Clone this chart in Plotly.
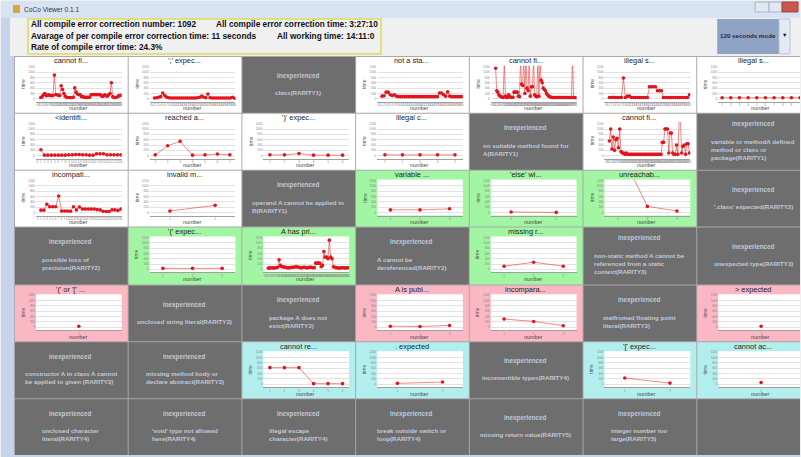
import plotly.graph_objects as go

W, H = 801, 457

# ---------------- data ----------------
cannot_find_a = [50, 80, 150, 200, 120, 130, 150, 120, 120, 120, 890, 150, 150, 130, 120, 490, 350, 200, 100, 50,
                 50, 50, 50, 50, 60, 410, 250, 180, 150, 150, 80, 80, 60, 60, 60, 60, 60, 150, 150, 160,
                 150, 150, 160, 150, 150, 100, 100, 150, 120, 100, 150, 200, 600, 80, 50, 50, 60, 100, 120, 130]
semicolon_expected = [30, 40, 60, 80, 220, 120, 60, 40, 30, 30, 30, 30, 30, 30, 30, 30, 30, 30, 30, 30,
                      30, 40, 60, 100, 60, 40, 180, 40, 30, 30, 30, 30, 30, 30, 30, 30, 30, 30, 60, 20]
not_a_statement = [100, 110, 250, 250, 150, 120, 150, 100, 80, 80, 80, 80, 80, 80, 80, 80, 80, 80, 80, 80,
                   80, 80, 80, 80, 80, 80, 80, 80, 220, 220, 150, 100, 260, 100, 80, 80, 80, 80, 80, 80]
cannot_find_b = [1150, 300, 250, 150, 100, 80, 60, 50, 1500, 100, 50, 50, 150, 80, 60, 50, 60, 250, 250, 250,
                 250, 100, 80, 1500, 550, 500, 1500, 200, 1500, 400, 300, 1500, 100, 450, 450, 1500, 150, 100, 80, 1500,
                 100, 1500, 700, 600, 400, 350, 300, 200, 150, 100, 80, 60, 50, 50, 50, 50, 50, 50, 50, 50,
                 50, 50, 50, 50, 50, 50, 50, 50, 50, 50, 50, 1500, 50, 50, 40]
illegal_start_a = [50, 50, 60, 50, 50, 50, 50, 780, 50, 100, 100, 50, 50, 50, 50, 50, 50, 50, 50, 50,
                   450, 450, 450, 450, 300, 300, 300, 50, 50, 50, 50, 50, 50, 50, 50, 50, 50, 50, 50, 50, 150]
illegal_start_b = [40, 40, 40, 40, 40, 40, 40, 40, 40, 40]
identifier_expected = [220, 20, 20, 20, 20, 20, 20, 20, 30, 30, 40, 40, 30, 30, 20, 20, 70, 70, 70, 30, 30, 30, 30, 30]
reached_end = [30, 370, 540, 20, 30, 60, 30]
paren_expected = [30, 30, 80, 20, 20, 20]
illegal_char = [30, 30, 30, 30, 30]
cannot_find_c = [550, 1000, 250, 700, 200, 600, 650, 300, 1000, 150, 100, 100, 50, 100, 50, 50, 50, 50, 50, 50,
                 50, 50, 50, 50, 50, 50, 50, 50, 50, 50, 50, 50, 50, 50, 50, 50, 50, 50, 50, 50,
                 50, 500, 500, 1000, 1000, 1000, 100, 850, 850, 100, 50, 50, 400, 50, 1300, 1300, 100, 350, 400, 50,
                 450, 450, 100]
incompatible_types = [90, 90, 310, 220, 220, 220, 620, 60, 60, 60, 50, 220, 100, 210, 130, 130, 130, 130, 130, 110,
                      100, 50, 40, 40, 100, 100, 80, 130]
invalid_method = [60, 270]
variable_init = [100, 100, 140]
else_without_if = [20, 5]
unreachable = [2500, 230, 60]
lparen_expected = [40, 40, 40]
has_private = [50, 50, 60, 60, 50, 60, 60, 80, 360, 150, 100, 100, 80, 80, 60, 60, 60, 80, 80, 80,
               100, 100, 80, 80, 60, 60, 80, 80, 60, 60, 80, 80, 80, 60, 60, 235, 235, 235, 235, 100,
               150, 675, 460, 460, 400, 1100, 460, 400, 100, 80, 60, 60, 50, 50, 60, 60, 60, 50, 60, 60]
missing_return = [120, 270, 120]
paren_or_bracket = [40]
is_public = [40, 30, 70]
incomparable = [310, 220, 60]
gt_expected = [40]
cannot_return = [620, 620, 620, 20, 20, 20]
dot_expected = [30, 80]
bracket_expected = [230, 40]
cannot_access = [60]

y_ticks = [0, 200, 400, 600, 800, 1000, 1200]

header_lines = [
    ("All compile error correction number: 1092", "All compile error correction time: 3:27:10"),
    ("Avarage of per compile error correction time: 11 seconds", "All working time: 14:11:0"),
    ("Rate of compile error time: 24.3%", ""),
]

# grid: (kind, title or description, values)
grid = [
    [("w", "cannot fi...", cannot_find_a), ("w", "';' expec...", semicolon_expected),
     ("x", "class(RARITY1)", None), ("w", "not a sta...", not_a_statement),
     ("w", "cannot fi...", cannot_find_b), ("w", "illegal s...", illegal_start_a),
     ("w", "illegal s...", illegal_start_b)],
    [("w", "&lt;identifi...", identifier_expected), ("w", "reached a...", reached_end),
     ("w", "')' expec...", paren_expected), ("w", "illegal c...", illegal_char),
     ("x", "no suitable method found for<br>A(RARITY1)", None), ("w", "cannot fi...", cannot_find_c),
     ("x", "variable or methodA defined<br>method or class or<br>package(RARITY1)", None)],
    [("w", "incompati...", incompatible_types), ("w", "invalid m...", invalid_method),
     ("x", "operand A cannot be applied to<br>B(RARITY1)", None), ("g", "variable ...", variable_init),
     ("g", "'else' wi...", else_without_if), ("g", "unreachab...", unreachable),
     ("x", "'.class' expected(RARITY2)", None)],
    [("x", "possible loss of<br>precision(RARITY2)", None), ("g", "'(' expec...", lparen_expected),
     ("g", "A has pri...", has_private), ("x", "A cannot be<br>dereferenced(RARITY2)", None),
     ("g", "missing r...", missing_return),
     ("x", "non-static method A cannot be<br>referenced from a static<br>context(RARITY3)", None),
     ("x", "unexpected type(RARITY3)", None)],
    [("p", "'(' or '[' ...", paren_or_bracket), ("x", "unclosed string literal(RARITY3)", None),
     ("x", "package A does not<br>exist(RARITY3)", None), ("p", "A is publ...", is_public),
     ("p", "incompara...", incomparable), ("x", "malfromed floating point<br>literal(RARITY3)", None),
     ("p", "&gt; expected", gt_expected)],
    [("x", "constructor A in class A cannot<br>be applied to given (RARITY3)", None),
     ("x", "missing method body or<br>declare abstract(RARITY3)", None),
     ("c", "cannot re...", cannot_return), ("c", ". expected", dot_expected),
     ("x", "inconvertible types(RARITY4)", None), ("c", "'[' expec...", bracket_expected),
     ("c", "cannot ac...", cannot_access)],
    [("x", "unclosed character<br>literal(RARITY4)", None), ("x", "'void' type not allowed<br>here(RARITY4)", None),
     ("x", "illegal escape<br>character(RARITY4)", None), ("x", "break outside switch or<br>loop(RARITY4)", None),
     ("x", "missing return value(RARITY5)", None), ("x", "integer number too<br>large(RARITY5)", None),
     ("x", "", None)],
]

# ---------------- styling ----------------
CELL_BG = {"w": "#ffffff", "g": "#a2f5a2", "p": "#fbb7c4", "c": "#b3eeee", "x": "#6e6e6e"}
GRAY_TEXT = "#c2c9d8"
FONT = "Liberation Sans, Arial, sans-serif"

col_x = [13, 127, 241, 355, 469, 583, 697, 811]
row_y = [55, 112, 169, 226, 284, 341, 398, 455]


def fx(px):
    return px / W


def fy(py):
    return 1 - py / H


fig = go.Figure()
shapes = []
annos = []
layout_axes = {}


def rect(x0, y0, x1, y1, fill, line=None, lw=0):
    shapes.append(dict(type="rect", xref="paper", yref="paper", x0=fx(x0), x1=fx(x1), y0=fy(y1), y1=fy(y0),
                       fillcolor=fill, line=dict(color=line or fill, width=lw), layer="below"))


def text(x, y, s, size, color, bold=False, xanchor="left", angle=0, align="left"):
    if bold and s:
        s = "<b>" + s + "</b>"
    annos.append(dict(x=fx(x), y=fy(y), xref="paper", yref="paper", text=s, showarrow=False,
                      xanchor=xanchor, yanchor="middle", textangle=angle, align=align,
                      font=dict(size=size, color=color, family=FONT)))


# window chrome
rect(0, 0, W, 17, "#d7e3f3")
rect(0, 17, W, H, "#c5d4ea")
rect(9, 17, W, 55, "#f0f0f0")
text(21, 8.5, "CoCo Viewer 0.1.1", 6.6, "#333333")
rect(12, 4, 19, 12, "#d9a441")
rect(756, 1, 770, 11, "#e1e8f2", "#a6b4c8", 1)
rect(770, 1, 783, 11, "#e1e8f2", "#a6b4c8", 1)
rect(783, 1, 799, 11, "#c9574c", "#a04040", 1)
# header box
shapes.append(dict(type="rect", xref="paper", yref="paper", x0=fx(27), x1=fx(381), y0=fy(53), y1=fy(18),
                   line=dict(color="#e2e07a", width=2), fillcolor="rgba(0,0,0,0)", layer="below"))
hy = [23, 35, 46.5]
for (a, b), yy in zip(header_lines, hy):
    text(28, yy, a, 8.3, "#111111", bold=True)
for b, xx, yy in [(header_lines[0][1], 214, hy[0]), (header_lines[1][1], 275, hy[1])]:
    text(xx, yy, b, 8.3, "#111111", bold=True)
# combo box
rect(718, 18, 780, 53, "#8fa4c4")
rect(780, 18, 791, 53, "#e4eaf3", "#b8c4d4", 1)
text(749, 34.5, "120 seconds mode", 6.2, "#1e2a3a", bold=True, xanchor="center")
text(785.5, 34.5, "▼", 5.5, "#111111", xanchor="center")

# grid background (separators)
rect(13, 55, W, 455, "#a9a9a9")

k = 0
for r, row in enumerate(grid):
    for c, (kind, label, vals) in enumerate(row):
        cx0, cx1 = col_x[c], col_x[c + 1]
        cy0, cy1 = row_y[r], row_y[r + 1]
        rect(cx0 + 1, cy0 + 1, min(cx1, W), cy1, CELL_BG[kind])
        ccx = (cx0 + cx1) / 2
        if kind == "x":
            nlines = label.count("<br>") + 1 if label else 0
            if nlines:
                cyc = cy0 + 28.5
                span = 16.5 + (nlines - 1) * 9
                head_y = cyc - span / 2
                text(ccx, head_y, "inexperienced", 6.3, GRAY_TEXT, bold=True, xanchor="center")
                desc_y = head_y + 16.5 + (nlines - 1) * 4.5
                text(ccx, desc_y, label, 6.2, GRAY_TEXT, bold=True, xanchor="center", align="left")
            continue
        k += 1
        n = len(vals)
        px0, px1 = cx0 + 22, cx0 + 108
        py0, py1 = cy0 + 10, cy0 + 46
        if n <= 12:
            lo, hi = 1 - 0.45, n + 0.45
            if n == 1:
                lo, hi = 0.5, 1.5
        else:
            lo, hi = 1 - 0.06 * n, n + 0.01 * n
        if px1 > W:
            hi = lo + (hi - lo) * (W - px0) / (px1 - px0)
            px1 = W
        rect(px0, py0, px1, py1, "#ffffff")
        xs = list(range(1, n + 1))
        suffix = "" if k == 1 else str(k)
        fig.add_trace(go.Scatter(x=xs, y=vals, mode="lines+markers", showlegend=False,
                                 line=dict(color="rgba(235,40,40,0.55)", width=1),
                                 marker=dict(color="#e3141c", size=3.6),
                                 xaxis="x" + suffix, yaxis="y" + suffix, hoverinfo="skip"))
        layout_axes["xaxis" + suffix] = dict(domain=[fx(px0), fx(px1)], range=[lo, hi], anchor="y" + suffix,
                                             tickmode="linear", tick0=1, dtick=1, tickangle=0,
                                             tickfont=dict(size=3, color="#888888", family=FONT),
                                             showgrid=False, zeroline=False, showline=True,
                                             linecolor="#a0a0a0", linewidth=1, ticks="", fixedrange=True)
        layout_axes["yaxis" + suffix] = dict(domain=[fy(py1), fy(py0)], range=[-112, 1237], anchor="x" + suffix,
                                             tickmode="array", tickvals=y_ticks,
                                             tickfont=dict(size=3, color="#888888", family=FONT),
                                             showgrid=True, gridcolor="#e2e2e2", gridwidth=1, zeroline=False,
                                             showline=False, ticks="", fixedrange=True)
        text(ccx, cy0 + 5, label, 7.4, "#222222", xanchor="center")
        text(cx0 + 9, cy0 + 28, "time", 5, "#555555", xanchor="center", angle=-90)
        text(cx0 + 64, cy0 + 52.5, "number", 5.4, "#444444", xanchor="center")

fig.update_layout(width=W, height=H, margin=dict(l=0, r=0, t=0, b=0),
                  paper_bgcolor="#f0f0f0", plot_bgcolor="rgba(0,0,0,0)",
                  shapes=shapes, annotations=annos, showlegend=False, **layout_axes)
# move the text layer onto the transparent top svg (own layer) so small text is drawn without colour fringes
post = (
    "document.body.style.margin='0';document.body.style.overflow='hidden';"
    "try{var gd=document.querySelector('.plotly-graph-div');"
    "var svgs=gd.querySelectorAll('svg.main-svg');"
    "var info=svgs[0].querySelector('g.infolayer');"
    "if(svgs.length>1&&info){svgs[1].appendChild(info);svgs[1].style.willChange='transform';}"
    "}catch(e){}"
)
fig.write_html("out.html", config={"displayModeBar": False}, post_script=post)
